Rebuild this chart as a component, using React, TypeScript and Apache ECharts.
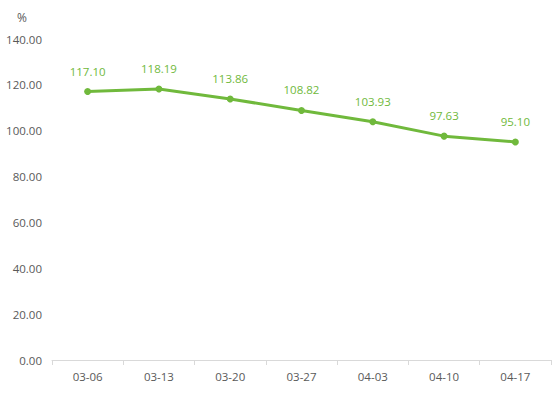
import React, { useEffect, useRef } from "react";
import * as echarts from "echarts";

const categories = ["03-06", "03-13", "03-20", "03-27", "04-03", "04-10", "04-17"];
const values = [117.1, 118.19, 113.86, 108.82, 103.93, 97.63, 95.1];
const yUnit = "%";

export default function App() {
  const ref = useRef<HTMLDivElement>(null);
  useEffect(() => {
    document.body.style.margin = "0";
    const chart = echarts.init(ref.current!, null, { renderer: "svg" });
    const font = "'Open Sans', 'Noto Sans', sans-serif";
    chart.setOption({
      animation: false,
      textStyle: { fontFamily: font },
      grid: { left: 52, right: 3, top: 39, bottom: 33, containLabel: false },
      graphic: [
        {
          type: "text",
          left: 17,
          top: 11,
          style: { text: yUnit, fill: "#595959", font: `12px ${font}` },
        },
      ],
      xAxis: {
        type: "category",
        data: categories,
        boundaryGap: true,
        axisLine: { lineStyle: { color: "#d9d9d9", width: 1 } },
        axisTick: { show: true, length: 5, lineStyle: { color: "#d9d9d9" } },
        axisLabel: { color: "#595959", fontSize: 11.5, margin: 10, fontFamily: font },
      },
      yAxis: {
        type: "value",
        min: 0,
        max: 140,
        interval: 20,
        splitLine: { show: false },
        axisLine: { show: false },
        axisTick: { show: false },
        axisLabel: {
          color: "#595959",
          fontSize: 11.5,
          margin: 10,
          fontFamily: font,
          formatter: (v: number) => v.toFixed(2),
        },
      },
      series: [
        {
          type: "line",
          data: values,
          symbol: "circle",
          symbolSize: 7,
          lineStyle: { color: "#70b93c", width: 3 },
          itemStyle: { color: "#70b93c" },
          label: {
            show: true,
            position: "top",
            distance: 11,
            color: "#70b93c",
            fontSize: 11.5,
            fontFamily: font,
            formatter: (p: any) => Number(p.value).toFixed(2),
          },
        },
      ],
    });
    return () => chart.dispose();
  }, []);
  return <div ref={ref} style={{ width: 554, height: 393 }} />;
}
